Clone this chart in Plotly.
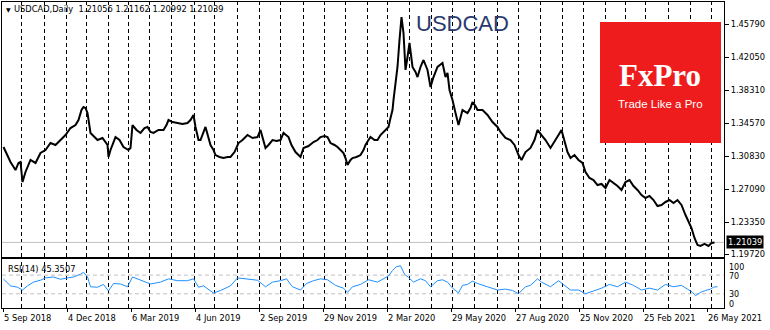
import numpy as np
import plotly.graph_objects as go

# ---------------------------------------------------------------------------
# USDCAD daily chart with RSI(14)
# Time axis: trading sessions counted from 5 Sep 2018 (weekdays, market closed
# on Christmas and New Year's Day).
# ---------------------------------------------------------------------------
START = "2018-09-05"
closed_days = ["2018-12-25", "2019-01-01", "2019-12-25",
               "2020-01-01", "2020-12-25", "2021-01-01"]

session = [
    0, 4, 7, 12, 15, 17, 19, 22, 27, 32, 37, 42, 47, 52, 57, 62, 67, 72, 75, 78,
    80, 82, 84, 86, 87, 91, 94, 99, 104, 105, 107, 112, 116, 120, 125, 127, 129,
    133, 137, 141, 144, 147, 150, 155, 160, 163, 165, 169, 174, 179, 184, 187,
    190, 192, 195, 197, 202, 205, 207, 210, 212, 216, 220, 224, 227, 231, 235,
    239, 244, 249, 254, 257, 260, 262, 265, 269, 273, 277, 280, 283, 285, 288,
    292, 295, 297, 300, 305, 310, 314, 317, 321, 324, 327, 331, 334, 337, 340,
    342, 344, 347, 349, 353, 357, 360, 362, 365, 367, 371, 374, 377, 380, 383,
    385, 387, 389, 390, 392, 394, 396, 398, 400, 402, 404, 406, 409, 412, 414,
    417, 420, 422, 424, 427, 430, 434, 437, 439, 442, 444, 446, 449, 452, 455,
    459, 464, 467, 469, 472, 474, 479, 484, 489, 494, 497, 502, 507, 511, 515,
    518, 522, 527, 531, 534, 538, 542, 547, 551, 555, 558, 561, 564, 567, 571,
    575, 579, 582, 586, 590, 594, 598, 602, 606, 610, 614, 618, 622, 626, 630,
    634, 638, 642, 646, 650, 654, 658, 662, 666, 670, 674, 678, 682, 685, 688,
    691, 694, 697, 701, 705, 708, 711, 714,
]
close = [
    1.3185, 1.3094, 1.3015, 1.2924, 1.3004, 1.3015, 1.2788, 1.2902, 1.3038,
    1.3004, 1.3117, 1.3151, 1.3230, 1.3208, 1.3264, 1.3321, 1.3400, 1.3434,
    1.3491, 1.3604, 1.3638, 1.3627, 1.3570, 1.3400, 1.3344, 1.3298, 1.3264,
    1.3287, 1.3208, 1.3072, 1.3151, 1.3298, 1.3264, 1.3185, 1.3151, 1.3174,
    1.3434, 1.3378, 1.3344, 1.3400, 1.3412, 1.3355, 1.3344, 1.3378, 1.3378,
    1.3434, 1.3491, 1.3468, 1.3457, 1.3446, 1.3457, 1.3491, 1.3548, 1.3412,
    1.3264, 1.3264, 1.3412, 1.3287, 1.3208, 1.3151, 1.3094, 1.3072, 1.3060,
    1.3072, 1.3072, 1.3128, 1.3230, 1.3264, 1.3321, 1.3287, 1.3298, 1.3378,
    1.3264, 1.3174, 1.3208, 1.3264, 1.3253, 1.3264, 1.3344, 1.3321, 1.3298,
    1.3208, 1.3128, 1.3094, 1.3072, 1.3174, 1.3196, 1.3242, 1.3264, 1.3298,
    1.3310, 1.3298, 1.3230, 1.3208, 1.3185, 1.3151, 1.3117, 1.3060, 1.2981,
    1.3038, 1.3060, 1.3072, 1.3094, 1.3151, 1.3208, 1.3264, 1.3298, 1.3264,
    1.3264, 1.3321, 1.3355, 1.3378, 1.3412, 1.3514, 1.3604, 1.3718, 1.3910,
    1.4092, 1.4398, 1.4658, 1.4477, 1.4058, 1.4205, 1.4364, 1.4092, 1.4035,
    1.3978, 1.4092, 1.4171, 1.4114, 1.4058, 1.3865, 1.3978, 1.4092, 1.4114,
    1.4137, 1.3978, 1.4024, 1.3831, 1.3718, 1.3570, 1.3434, 1.3604, 1.3570,
    1.3627, 1.3695, 1.3650, 1.3604, 1.3604, 1.3548, 1.3468, 1.3412, 1.3355,
    1.3287, 1.3264, 1.3208, 1.3094, 1.3038, 1.3128, 1.3174, 1.3264, 1.3378,
    1.3321, 1.3264, 1.3174, 1.3242, 1.3321, 1.3378, 1.3264, 1.3128, 1.3060,
    1.3094, 1.3038, 1.3004, 1.2902, 1.2834, 1.2811, 1.2754, 1.2766, 1.2720,
    1.2811, 1.2777, 1.2743, 1.2698, 1.2788, 1.2811, 1.2743, 1.2698, 1.2641,
    1.2607, 1.2630, 1.2584, 1.2516, 1.2528, 1.2562, 1.2584, 1.2550, 1.2584,
    1.2528, 1.2414, 1.2335, 1.2267, 1.2154, 1.2074, 1.2063, 1.2086, 1.2063,
    1.2097, 1.2104,
]

rsi_session = [
    0, 7, 14, 19, 24, 30, 37, 42, 50, 57, 64, 70, 77, 80, 84, 87, 94, 100, 105,
    110, 117, 124, 129, 137, 147, 157, 165, 174, 184, 190, 195, 200, 210, 217,
    227, 234, 244, 254, 262, 269, 277, 283, 289, 297, 303, 310, 317, 324, 332,
    340, 344, 349, 357, 365, 374, 380, 385, 389, 393, 397, 401, 405, 410, 417,
    422, 427, 434, 439, 444, 449, 455, 459, 464, 469, 474, 484, 494, 502, 509,
    515, 522, 527, 534, 538, 547, 555, 561, 567, 575, 582, 590, 598, 606, 614,
    622, 630, 638, 646, 654, 662, 670, 678, 684, 689, 692, 697, 702, 707, 710,
    714,
]
rsi14 = [
    61.6, 47, 44, 38, 47, 55, 59, 64, 66, 61, 64, 66, 72, 76, 66, 45, 44, 50,
    36, 52, 51, 45, 66, 59, 51, 55, 62, 58, 58, 62, 44, 47, 31.5, 37, 47, 64,
    62, 59, 45, 55, 58, 62, 45, 38, 52, 58, 62, 60, 48, 42, 33, 45, 50, 60, 55,
    62, 68, 80, 88, 90, 72, 65, 55, 62, 58, 45, 58, 60, 55, 42, 32, 48, 50, 57,
    52, 45, 38, 40, 37, 30, 45, 48, 62, 55, 45, 58, 48, 38, 38, 30, 36, 42, 50,
    45, 55, 48, 38, 42, 38, 50, 45, 48, 40, 33, 26, 33, 37, 40, 44, 45.35,
]
rsi_levels = [70, 30]

price_ticks = [1.45790, 1.42050, 1.38310, 1.34570, 1.30830, 1.27090, 1.23350, 1.19720]
last_bar = {"open": 1.21056, "high": 1.21162, "low": 1.20992, "close": 1.21039}
rsi_last = 45.3507

label_dates = ["2018-09-05", "2018-12-04", "2019-03-06", "2019-06-04",
               "2019-09-02", "2019-11-29", "2020-03-02", "2020-05-29",
               "2020-08-27", "2020-11-25", "2021-02-25", "2021-05-26"]


def to_session(dates):
    return [int(np.busday_count(START, d, holidays=closed_days)) for d in dates]


def fmt_date(d):
    d64 = np.datetime64(d).astype(object)
    return f"{d64.day} {d64.strftime('%b %Y')}"


label_sessions = to_session(label_dates)
label_texts = [fmt_date(d) for d in label_dates]

# month separators: first trading day of every month
month_starts = np.arange(np.datetime64("2018-10"), np.datetime64("2021-07"))
first_days = [str(np.busday_offset(m.astype("datetime64[D]"), 0, roll="forward",
                                   holidays=closed_days)) for m in month_starts]
grid_sessions = to_session(first_days)

FONT = "DejaVu Sans"
W, H = 770, 330
ML, MR, MT, MB = 2, 46, 2, 22
plot_w = W - ML - MR
plot_h = H - MT - MB


def px_x(px):
    return (px - ML) / plot_w


def px_y(py):
    return (H - MB - py) / plot_h


fig = go.Figure()
fig.add_trace(go.Scatter(x=session, y=close, mode="lines",
                         line=dict(color="black", width=2),
                         xaxis="x", yaxis="y", hoverinfo="skip"))
fig.add_trace(go.Scatter(x=rsi_session, y=rsi14, mode="lines",
                         line=dict(color="#1E90FF", width=1),
                         xaxis="x2", yaxis="y2", hoverinfo="skip"))

shapes = []
for g in grid_sessions:
    for xr, yr in (("x", "y domain"), ("x2", "y2 domain")):
        shapes.append(dict(type="line", xref=xr, yref=yr, x0=g, x1=g, y0=0, y1=1,
                           line=dict(color="black", width=1, dash="4px,3px"),
                           layer="below"))
for lv in rsi_levels:
    shapes.append(dict(type="line", xref="x2 domain", yref="y2", x0=0, x1=1,
                       y0=lv, y1=lv,
                       line=dict(color="#C0C0C0", width=1, dash="4px,3px"),
                       layer="below"))
shapes.append(dict(type="line", xref="x domain", yref="y", x0=0, x1=1,
                   y0=last_bar["close"], y1=last_bar["close"],
                   line=dict(color="#C0C0C0", width=1), layer="below"))
# logo plate
shapes.append(dict(type="rect", xref="paper", yref="paper",
                   x0=px_x(600), x1=px_x(721), y0=px_y(143), y1=px_y(22),
                   fillcolor="#EE1C1C", line=dict(width=0), layer="above"))
# date ticks under the indicator window
for s in label_sessions:
    shapes.append(dict(type="line", xref="x2", yref="paper", x0=s, x1=s,
                       y0=0, y1=-4 / plot_h, line=dict(color="black", width=1)))

annotations = []
for s, t in zip(label_sessions, label_texts):
    annotations.append(dict(x=s, xref="x2", y=0, yref="paper", text=t,
                            xanchor="left", yanchor="top", yshift=-3, xshift=-2,
                            showarrow=False, font=dict(family=FONT, size=8.3, color="black")))
# RSI scale
for txt, py in (("100", 267), ("70", 276), ("30", 294), ("0", 304.5)):
    annotations.append(dict(x=1, xref="paper", y=px_y(py), yref="paper", text=txt,
                            xanchor="left", yanchor="middle", xshift=4, borderpad=0,
                            showarrow=False, font=dict(family=FONT, size=8, color="black")))
# current price box
annotations.append(dict(x=1, xref="paper", y=last_bar["close"], yref="y",
                        text=f"{last_bar['close']:.5f}", xanchor="left", yanchor="middle",
                        xshift=2, showarrow=False, bgcolor="black", borderpad=1,
                        font=dict(family=FONT, size=8.3, color="white")))
# header
annotations.append(dict(x=px_x(4), xref="paper", y=px_y(9), yref="paper",
                        text="\u25BC", xanchor="left", yanchor="middle", showarrow=False,
                        font=dict(family=FONT, size=6, color="black")))
annotations.append(dict(x=px_x(12), xref="paper", y=px_y(9), yref="paper",
                        text=("USDCAD,Daily  {open:.5f} {high:.5f} {low:.5f} {close:.5f}"
                              .format(**last_bar)),
                        xanchor="left", yanchor="middle", showarrow=False,
                        font=dict(family=FONT, size=8.3, color="black")))
annotations.append(dict(x=px_x(6), xref="paper", y=px_y(269), yref="paper",
                        text=f"RSI(14) {rsi_last:.4f}", xanchor="left", yanchor="middle",
                        showarrow=False, font=dict(family=FONT, size=8.3, color="black")))
# symbol watermark
annotations.append(dict(x=px_x(462), xref="paper", y=px_y(24), yref="paper",
                        text="USDCAD", xanchor="center", yanchor="middle", showarrow=False,
                        font=dict(family="Liberation Sans", size=22, color="#2A3A6E")))
# logo text
annotations.append(dict(x=px_x(660), xref="paper", y=px_y(75), yref="paper",
                        text="<b>FxPro</b>", xanchor="center", yanchor="middle",
                        showarrow=False,
                        font=dict(family="Liberation Serif", size=31, color="white")))
annotations.append(dict(x=px_x(660), xref="paper", y=px_y(104), yref="paper",
                        text="Trade Like a Pro", xanchor="center", yanchor="middle",
                        showarrow=False,
                        font=dict(family="Liberation Sans", size=11.5, color="white")))

main_bottom = px_y(257)
rsi_top = px_y(259)

axis_line = dict(showline=True, mirror=True, linecolor="black", linewidth=1,
                 showgrid=False, zeroline=False)
xrange = [-1.5, 720.5]

fig.update_layout(
    width=W, height=H,
    margin=dict(l=ML, r=MR, t=MT, b=MB),
    paper_bgcolor="white", plot_bgcolor="white",
    showlegend=False,
    font=dict(family=FONT, size=8.3, color="black"),
    xaxis=dict(domain=[0, 1], anchor="y", range=xrange, showticklabels=False,
               ticks="", **axis_line),
    xaxis2=dict(domain=[0, 1], anchor="y2", range=xrange, matches="x",
                showticklabels=False, ticks="", **axis_line),
    yaxis=dict(domain=[main_bottom, 1], anchor="x", side="right",
               range=[1.19385, 1.48283], tickmode="array", tickvals=price_ticks,
               ticktext=[f"{v:.5f}" for v in price_ticks], ticks="outside",
               ticklen=4, tickcolor="black",
               tickfont=dict(family=FONT, size=8.3, color="black"), **axis_line),
    yaxis2=dict(domain=[0, rsi_top], anchor="x2", side="right",
                range=[-0.5, 104.5], showticklabels=False, ticks="", **axis_line),
    shapes=shapes,
    annotations=annotations,
)

fig.write_html("out.html", config={"displayModeBar": False})
